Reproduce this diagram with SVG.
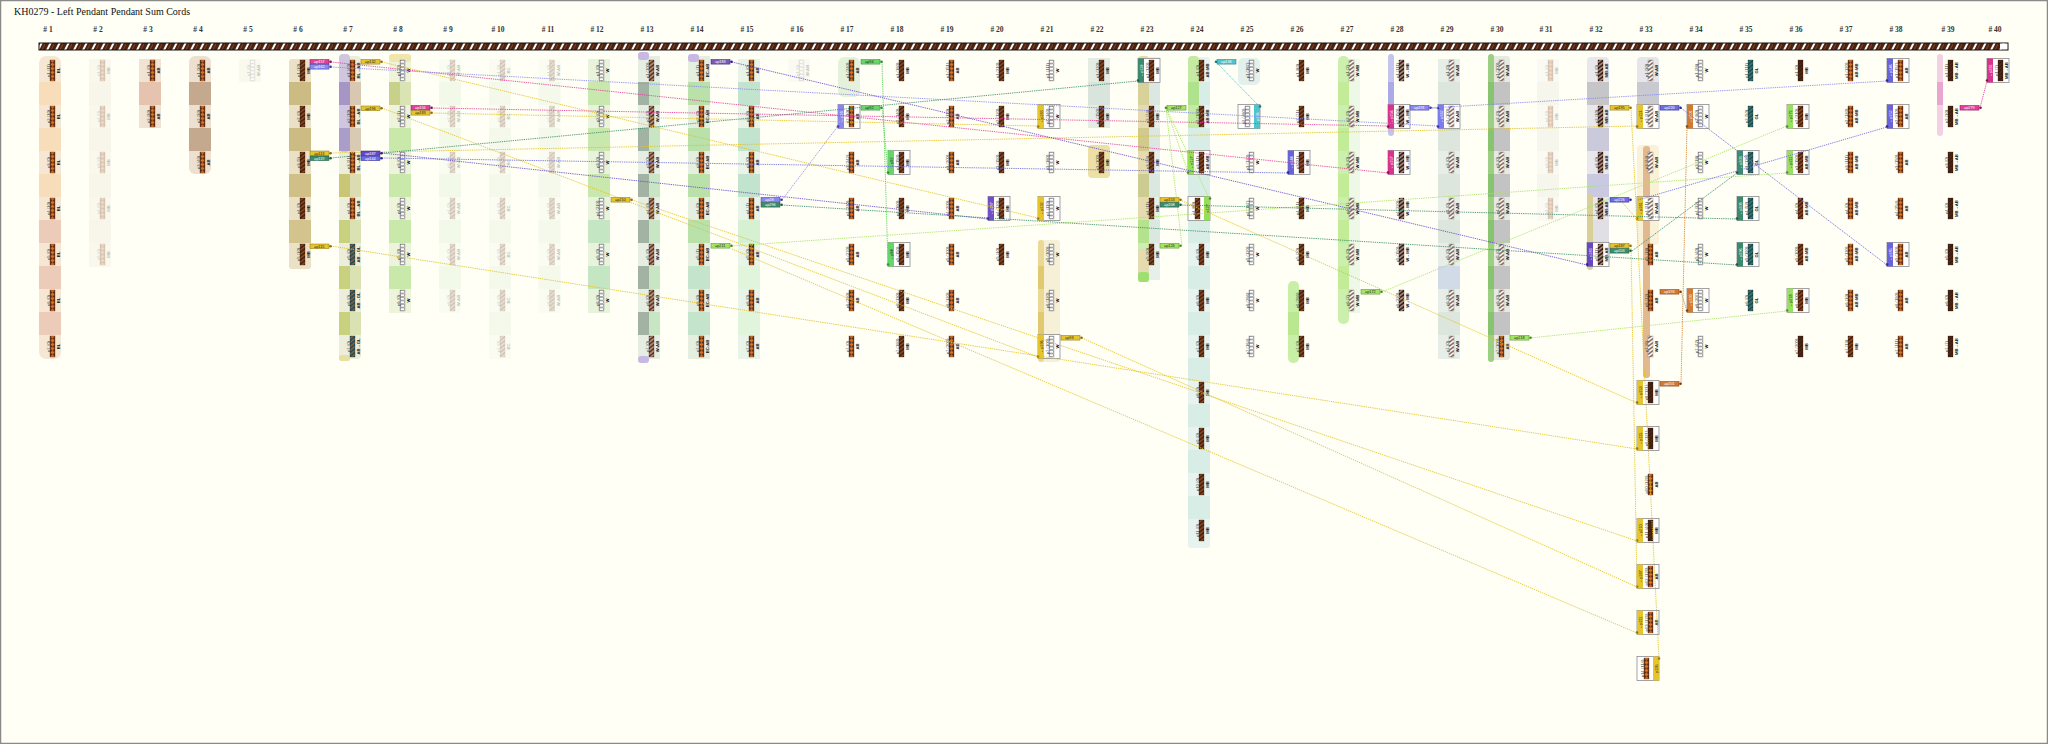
<svg xmlns="http://www.w3.org/2000/svg" width="2048" height="744" viewBox="0 0 2048 744">
<style>
.t text{font-family:"Liberation Sans",Arial,sans-serif;font-size:4.2px;text-anchor:middle;fill:#3a3a3a}
.t .a{font-weight:bold;fill:#111}
.t .tb{fill:#fff;font-size:3.8px}
.h{font-family:"Liberation Serif",serif;font-size:7.5px;font-weight:bold;fill:#333;text-anchor:middle}
.bx{fill:#fff;stroke:#8c8c8c;stroke-width:.8}
.cp text{font-family:"Liberation Sans",Arial,sans-serif;font-size:3.8px;fill:#fff}
.cp .k{fill:#222}
.cp rect{stroke-width:.5}
#connectors line{fill:none;stroke-width:1;stroke-dasharray:1.3 .9;opacity:.85}
</style>
<defs>
<pattern id="pR" width="9" height="7" patternUnits="userSpaceOnUse" y="43"><rect width="9" height="7" fill="#4a2313"/><path d="M1 7L3.2 7L6.7 0L4.5 0Z" fill="#fff"/><path d="M6 7L9.5 0" stroke="#9a4a24" stroke-width=".8"/></pattern>
<pattern id="pA" width="5" height="4" patternUnits="userSpaceOnUse" x="11"><rect width="5" height="4" fill="#5c2b15"/><path d="M0 2L2.5 .3L5 2L2.5 3.7Z" fill="#d9762c"/></pattern>
<pattern id="pO" width="5" height="4" patternUnits="userSpaceOnUse" x="11"><rect width="5" height="4" fill="#4a2210"/><path d="M0 4L5 0" stroke="#c06a30" stroke-width="1"/></pattern>
<pattern id="pS" width="5" height="4" patternUnits="userSpaceOnUse" x="11"><rect width="5" height="4" fill="#3f1d0e"/><path d="M0 4L5 0" stroke="#fff" stroke-width="1"/></pattern>
<pattern id="pW" width="5" height="3.5" patternUnits="userSpaceOnUse" x="11"><rect width="5" height="3.5" fill="#fff"/><rect x=".4" y=".4" width="4.2" height="2.7" fill="none" stroke="#666" stroke-width=".5"/></pattern>
<pattern id="pM" width="5" height="4" patternUnits="userSpaceOnUse" x="11"><rect width="5" height="4" fill="#3e1e10"/><path d="M0 4L5 0" stroke="#5e3420" stroke-width=".8"/></pattern>
<pattern id="pG" width="5" height="4" patternUnits="userSpaceOnUse" x="11"><rect width="5" height="4" fill="#1f4f50"/><path d="M0 4L5 0" stroke="#4f9a90" stroke-width="1"/></pattern>
<pattern id="pT" width="5" height="4" patternUnits="userSpaceOnUse" x="11"><rect width="5" height="4" fill="#24505a"/><path d="M0 4L5 0" stroke="#d07030" stroke-width="1"/></pattern>
<pattern id="pX" width="5" height="4" patternUnits="userSpaceOnUse" x="11"><rect width="5" height="4" fill="#6a3418"/><path d="M0 4L5 0" stroke="#fff" stroke-width=".9"/></pattern>
<pattern id="pV" width="5" height="4" patternUnits="userSpaceOnUse" x="11"><rect width="5" height="4" fill="#fff"/><path d="M0 4L5 0" stroke="#5a2a14" stroke-width="1.1"/></pattern>
<g id="bA"><rect x="11" y="-10.5" width="5" height="21" fill="url(#pA)" stroke="#3a1a0a" stroke-width=".3"/></g>
<g id="bO"><rect x="11" y="-10.5" width="5" height="21" fill="url(#pO)" stroke="#3a1a0a" stroke-width=".3"/></g>
<g id="bS"><rect x="11" y="-10.5" width="5" height="21" fill="url(#pS)" stroke="#2a1208" stroke-width=".3"/></g>
<g id="bW"><rect x="11" y="-10.5" width="5" height="21" fill="url(#pW)" stroke="#666" stroke-width=".3"/></g>
<g id="bM"><rect x="11" y="-10.5" width="5" height="21" fill="url(#pM)" stroke="#2a1208" stroke-width=".3"/></g>
<g id="bG"><rect x="11" y="-10.5" width="5" height="21" fill="url(#pG)" stroke="#123" stroke-width=".3"/></g>
<g id="bT"><rect x="11" y="-10.5" width="5" height="21" fill="url(#pT)" stroke="#123" stroke-width=".3"/></g>
<g id="bX"><rect x="11" y="-10.5" width="5" height="21" fill="url(#pX)" stroke="#3a1a0a" stroke-width=".3"/></g>
<g id="bV"><rect x="11" y="-10.5" width="5" height="21" fill="url(#pV)" stroke="#555" stroke-width=".3"/></g>
</defs>
<rect x="0.5" y="0.5" width="2047" height="743" fill="#fffff6" stroke="#8a8a8a" stroke-width="1.5"/>
<text x="14" y="15" font-family="Liberation Serif,serif" font-size="10" fill="#111">KH0279 - Left Pendant Pendant Sum Cords</text>
<g id="headers" class="h">
<text x="48" y="32"># 1</text><text x="98" y="32"># 2</text><text x="148" y="32"># 3</text><text x="198" y="32"># 4</text><text x="248" y="32"># 5</text><text x="298" y="32"># 6</text><text x="348" y="32"># 7</text><text x="398" y="32"># 8</text><text x="448" y="32"># 9</text><text x="498" y="32"># 10</text>
<text x="548" y="32"># 11</text><text x="597" y="32"># 12</text><text x="647" y="32"># 13</text><text x="697" y="32"># 14</text><text x="747" y="32"># 15</text><text x="797" y="32"># 16</text><text x="847" y="32"># 17</text><text x="897" y="32"># 18</text><text x="947" y="32"># 19</text><text x="997" y="32"># 20</text>
<text x="1047" y="32"># 21</text><text x="1097" y="32"># 22</text><text x="1147" y="32"># 23</text><text x="1197" y="32"># 24</text><text x="1247" y="32"># 25</text><text x="1297" y="32"># 26</text><text x="1347" y="32"># 27</text><text x="1397" y="32"># 28</text><text x="1447" y="32"># 29</text><text x="1497" y="32"># 30</text>
<text x="1546" y="32"># 31</text><text x="1596" y="32"># 32</text><text x="1646" y="32"># 33</text><text x="1696" y="32"># 34</text><text x="1746" y="32"># 35</text><text x="1796" y="32"># 36</text><text x="1846" y="32"># 37</text><text x="1896" y="32"># 38</text><text x="1948" y="32"># 39</text><text x="1995" y="32"># 40</text>
</g>
<g id="primary">
<rect x="39" y="43" width="1969" height="7" fill="url(#pR)" stroke="#111" stroke-width="1"/>
<rect x="2000" y="43.5" width="7.5" height="6" fill="#fff"/>
</g>

<g id="col1" transform="translate(39,0)">
<rect y="56" width="22" height="303" rx="7" fill="#f6e7d5"/>
<rect y="82" width="22" height="23" fill="#f8ddbb"/><rect y="128" width="22" height="23" fill="#f8ddbb"/><rect y="174" width="22" height="23" fill="#f8ddbb"/><rect y="220" width="22" height="23" fill="#ecccb9"/><rect y="266" width="22" height="23" fill="#ecccb9"/><rect y="312" width="22" height="23" fill="#ecccb9"/>
<use href="#bA" y="70.5"/><use href="#bA" y="116.5"/><use href="#bA" y="162.5"/><use href="#bA" y="208.5"/><use href="#bA" y="254.5"/><use href="#bA" y="300.5"/><use href="#bA" y="346.5"/>
<g class="t" transform="rotate(-90)"><text x="-70.5" y="11">p1 (11)</text><text x="-70.5" y="21" class="a">BL</text><text x="-116.5" y="11">p2 (10)</text><text x="-116.5" y="21" class="a">BL</text><text x="-162.5" y="11">p3 (0)</text><text x="-162.5" y="21" class="a">BL</text><text x="-208.5" y="11">p4 (10)</text><text x="-208.5" y="21" class="a">BL</text><text x="-254.5" y="11">p5 (0)</text><text x="-254.5" y="21" class="a">BL</text><text x="-300.5" y="11">p6 (0)</text><text x="-300.5" y="21" class="a">BL</text><text x="-346.5" y="11">p7 (0)</text><text x="-346.5" y="21" class="a">BL</text></g>
</g>

<g id="col2" transform="translate(89,0)" opacity="0.28">
<rect y="59" width="22" height="208" fill="#efe5d9"/>
<rect y="82" width="22" height="23" fill="#e9dccd"/><rect y="128" width="22" height="23" fill="#e9dccd"/><rect y="174" width="22" height="23" fill="#e9dccd"/><rect y="220" width="22" height="23" fill="#e9dccd"/>
<use href="#bA" y="70.5"/><use href="#bA" y="116.5"/><use href="#bA" y="162.5"/><use href="#bA" y="208.5"/><use href="#bA" y="254.5"/>
<g class="t" transform="rotate(-90)"><text x="-70.5" y="11">p1 (0)</text><text x="-70.5" y="21" class="a">MB</text><text x="-116.5" y="11">p2 (0)</text><text x="-116.5" y="21" class="a">MB</text><text x="-162.5" y="11">p3 (0)</text><text x="-162.5" y="21" class="a">MB</text><text x="-208.5" y="11">p4 (0)</text><text x="-208.5" y="21" class="a">MB</text><text x="-254.5" y="11">p5 (0)</text><text x="-254.5" y="21" class="a">MB</text></g>
</g>

<g id="col3" transform="translate(139,0)">
<rect y="59" width="22" height="69" fill="#f1e3d3"/>
<rect y="82" width="22" height="23" fill="#e6c3af"/>
<use href="#bA" y="70.5"/><use href="#bA" y="116.5"/>
<g class="t" transform="rotate(-90)"><text x="-70.5" y="11">p1 (0)</text><text x="-70.5" y="21" class="a">AB</text><text x="-116.5" y="11">p2 (30)</text><text x="-116.5" y="21" class="a">AB</text></g>
</g>

<g id="col4" transform="translate(189,0)">
<rect y="56" width="22" height="118" rx="6" fill="#eee0d0"/>
<rect y="82" width="22" height="23" fill="#c4a98e"/><rect y="128" width="22" height="23" fill="#c4a98e"/>
<use href="#bA" y="70.5"/><use href="#bA" y="116.5"/><use href="#bA" y="162.5"/>
<g class="t" transform="rotate(-90)"><text x="-70.5" y="11">p1 (30)</text><text x="-70.5" y="21" class="a">AB</text><text x="-116.5" y="11">p2 (30)</text><text x="-116.5" y="21" class="a">AB</text><text x="-162.5" y="11">p3 (40)</text><text x="-162.5" y="21" class="a">AB</text></g>
</g>

<g id="col5" transform="translate(239,0)" opacity="0.28">
<rect y="59" width="22" height="23" fill="#eeeadc"/>
<use href="#bW" y="70.5"/>
<g class="t" transform="rotate(-90)"><text x="-70.5" y="11">p1 (0)</text><text x="-70.5" y="21" class="a">W:AB</text></g>
</g>

<g id="col6" transform="translate(289,0)">
<rect y="59" width="22" height="210" rx="3" fill="#ebe1c6"/>
<rect y="82" width="22" height="23" fill="#ccbc84"/><rect y="128" width="22" height="23" fill="#ccbc84"/><rect y="174" width="22" height="23" fill="#d0c088"/><rect y="220" width="22" height="23" fill="#d2c48c"/>
<use href="#bO" y="70.5"/><use href="#bO" y="116.5"/><use href="#bO" y="162.5"/><use href="#bO" y="208.5"/><use href="#bO" y="254.5"/>
<g class="t" transform="rotate(-90)"><text x="-70.5" y="11">p1 (10)</text><text x="-70.5" y="21" class="a">MB</text><text x="-116.5" y="11">p2 (0)</text><text x="-116.5" y="21" class="a">MB</text><text x="-162.5" y="11">p3 (5)</text><text x="-162.5" y="21" class="a">MB</text><text x="-208.5" y="11">p4 (0)</text><text x="-208.5" y="21" class="a">MB</text><text x="-254.5" y="11">p5 (10)</text><text x="-254.5" y="21" class="a">MB</text></g>
</g>

<g id="col7" transform="translate(339,0)">
<rect y="56" width="22" height="303" rx="4" fill="#eceedb"/>
<rect y="54" width="11" height="98" rx="4" fill="#cfc6e0"/>
<rect y="82" width="11" height="23" fill="#a696c6"/><rect x="11" y="82" width="11" height="23" fill="#d8c8b2"/>
<rect y="128" width="11" height="23" fill="#ab9dc9"/><rect x="11" y="128" width="11" height="23" fill="#d9cab4"/>
<rect y="174" width="11" height="23" fill="#c9c676"/><rect x="11" y="174" width="11" height="23" fill="#dcdcb2"/>
<rect y="220" width="11" height="23" fill="#c9d17e"/><rect x="11" y="220" width="11" height="23" fill="#dae2b4"/>
<rect y="266" width="11" height="23" fill="#c9d17e"/><rect x="11" y="266" width="11" height="23" fill="#dae2b4"/>
<rect y="312" width="11" height="23" fill="#c9d17e"/><rect x="11" y="312" width="11" height="23" fill="#dae2b4"/>
<rect y="355" width="11" height="6" rx="2" fill="#e8e0a0"/>
<use href="#bA" y="70.5"/><use href="#bA" y="116.5"/><use href="#bA" y="162.5"/><use href="#bA" y="208.5"/><use href="#bT" y="254.5"/><use href="#bT" y="300.5"/><use href="#bT" y="346.5"/>
<g class="t" transform="rotate(-90)"><text x="-70.5" y="11">p1 (40)</text><text x="-70.5" y="21" class="a">BL→AB</text><text x="-116.5" y="11">p2 (10)</text><text x="-116.5" y="21" class="a">BL→AB</text><text x="-162.5" y="11">p3 (21)</text><text x="-162.5" y="21" class="a">BL→AB</text><text x="-208.5" y="11">p4 (0)</text><text x="-208.5" y="21" class="a">BL→AB</text><text x="-254.5" y="11">p5 (0)</text><text x="-254.5" y="21" class="a">AB→GL</text><text x="-300.5" y="11">p6 (0)</text><text x="-300.5" y="21" class="a">AB→GL</text><text x="-346.5" y="11">p7 (0)</text><text x="-346.5" y="21" class="a">AB→GL</text></g>
</g>

<g id="col8" transform="translate(389,0)">
<rect y="56" width="22" height="257" fill="#eef3dc"/>
<rect y="54" width="22" height="8" rx="3" fill="#efe6ae"/>
<rect y="82" width="11" height="23" fill="#c8d089"/><rect x="11" y="82" width="11" height="23" fill="#d9e3b3"/>
<rect y="128" width="22" height="23" fill="#c8e9aa"/><rect y="174" width="22" height="23" fill="#c8e9aa"/><rect y="220" width="22" height="23" fill="#c8e9aa"/><rect y="266" width="22" height="23" fill="#c8e9aa"/>
<use href="#bW" y="70.5"/><use href="#bW" y="116.5"/><use href="#bW" y="162.5"/><use href="#bW" y="208.5"/><use href="#bW" y="254.5"/><use href="#bW" y="300.5"/>
<g class="t" transform="rotate(-90)"><text x="-70.5" y="11">p1 (0)</text><text x="-70.5" y="21" class="a">W</text><text x="-116.5" y="11">p2 (1)</text><text x="-116.5" y="21" class="a">W</text><text x="-162.5" y="11">p3 (0)</text><text x="-162.5" y="21" class="a">W</text><text x="-208.5" y="11">p4 (0)</text><text x="-208.5" y="21" class="a">W</text><text x="-254.5" y="11">p5 (0)</text><text x="-254.5" y="21" class="a">W</text><text x="-300.5" y="11">p6 (0)</text><text x="-300.5" y="21" class="a">W</text></g>
</g>

<g id="col9" transform="translate(439,0)" opacity="0.28">
<rect y="59" width="22" height="254" fill="#edf5e4"/>
<rect y="82" width="22" height="23" fill="#d7ecc6"/><rect y="128" width="22" height="23" fill="#d7ecc6"/><rect y="174" width="22" height="23" fill="#d7ecc6"/><rect y="220" width="22" height="23" fill="#d7ecc6"/><rect y="266" width="22" height="23" fill="#d7ecc6"/>
<use href="#bX" y="70.5"/><use href="#bX" y="116.5"/><use href="#bX" y="162.5"/><use href="#bX" y="208.5"/><use href="#bX" y="254.5"/><use href="#bX" y="300.5"/>
<g class="t" transform="rotate(-90)"><text x="-70.5" y="11">p1 (0)</text><text x="-70.5" y="21" class="a">W:AB</text><text x="-116.5" y="11">p2 (0)</text><text x="-116.5" y="21" class="a">W:AB</text><text x="-162.5" y="11">p3 (0)</text><text x="-162.5" y="21" class="a">W:AB</text><text x="-208.5" y="11">p4 (0)</text><text x="-208.5" y="21" class="a">W:AB</text><text x="-254.5" y="11">p5 (0)</text><text x="-254.5" y="21" class="a">W:AB</text><text x="-300.5" y="11">p6 (0)</text><text x="-300.5" y="21" class="a">W:AB</text></g>
</g>

<g id="col10" transform="translate(489,0)" opacity="0.28">
<rect y="59" width="22" height="300" fill="#eef4e6"/>
<rect y="82" width="22" height="23" fill="#dcecd0"/><rect y="128" width="22" height="23" fill="#dcecd0"/><rect y="174" width="22" height="23" fill="#dcecd0"/><rect y="220" width="22" height="23" fill="#dcecd0"/><rect y="266" width="22" height="23" fill="#dcecd0"/><rect y="312" width="22" height="23" fill="#dcecd0"/>
<use href="#bX" y="70.5"/><use href="#bX" y="116.5"/><use href="#bX" y="162.5"/><use href="#bX" y="208.5"/><use href="#bX" y="254.5"/><use href="#bX" y="300.5"/><use href="#bX" y="346.5"/>
<g class="t" transform="rotate(-90)"><text x="-70.5" y="11">p1 (0)</text><text x="-70.5" y="21" class="a">BC</text><text x="-116.5" y="11">p2 (0)</text><text x="-116.5" y="21" class="a">BC</text><text x="-162.5" y="11">p3 (0)</text><text x="-162.5" y="21" class="a">BC</text><text x="-208.5" y="11">p4 (0)</text><text x="-208.5" y="21" class="a">BC</text><text x="-254.5" y="11">p5 (0)</text><text x="-254.5" y="21" class="a">BC</text><text x="-300.5" y="11">p6 (0)</text><text x="-300.5" y="21" class="a">BC</text><text x="-346.5" y="11">p7 (0)</text><text x="-346.5" y="21" class="a">BC</text></g>
</g>

<g id="col11" transform="translate(538.5,0)" opacity="0.28">
<rect y="59" width="22" height="254" fill="#eef4e6"/>
<rect y="82" width="22" height="23" fill="#dcecd0"/><rect y="128" width="22" height="23" fill="#dcecd0"/><rect y="174" width="22" height="23" fill="#dcecd0"/><rect y="220" width="22" height="23" fill="#dcecd0"/><rect y="266" width="22" height="23" fill="#dcecd0"/>
<use href="#bX" y="70.5"/><use href="#bX" y="116.5"/><use href="#bX" y="162.5"/><use href="#bX" y="208.5"/><use href="#bX" y="254.5"/><use href="#bX" y="300.5"/>
<g class="t" transform="rotate(-90)"><text x="-70.5" y="11">p1 (0)</text><text x="-70.5" y="21" class="a">W:AB</text><text x="-116.5" y="11">p2 (0)</text><text x="-116.5" y="21" class="a">W:AB</text><text x="-162.5" y="11">p3 (0)</text><text x="-162.5" y="21" class="a">W:AB</text><text x="-208.5" y="11">p4 (0)</text><text x="-208.5" y="21" class="a">W:AB</text><text x="-254.5" y="11">p5 (0)</text><text x="-254.5" y="21" class="a">W:AB</text><text x="-300.5" y="11">p6 (0)</text><text x="-300.5" y="21" class="a">W:AB</text></g>
</g>

<g id="col12" transform="translate(588,0)">
<rect y="59" width="22" height="254" fill="#e8f3dc"/>
<rect y="82" width="22" height="23" fill="#c9e8ad"/><rect y="128" width="22" height="23" fill="#c9e8ad"/><rect y="174" width="22" height="23" fill="#c9e8ad"/><rect y="220" width="22" height="23" fill="#c5e6c3"/><rect y="266" width="22" height="23" fill="#c5e6c3"/>
<use href="#bW" y="70.5"/><use href="#bW" y="116.5"/><use href="#bW" y="162.5"/><use href="#bW" y="208.5"/><use href="#bW" y="254.5"/><use href="#bW" y="300.5"/>
<g class="t" transform="rotate(-90)"><text x="-70.5" y="11">p1 (0)</text><text x="-70.5" y="21" class="a">W</text><text x="-116.5" y="11">p2 (0)</text><text x="-116.5" y="21" class="a">W</text><text x="-162.5" y="11">p3 (0)</text><text x="-162.5" y="21" class="a">W</text><text x="-208.5" y="11">p4 (210)</text><text x="-208.5" y="21" class="a">W</text><text x="-254.5" y="11">p5 (0)</text><text x="-254.5" y="21" class="a">W</text><text x="-300.5" y="11">p6 (0)</text><text x="-300.5" y="21" class="a">W</text></g>
</g>

<g id="col13" transform="translate(638,0)">
<rect y="56" width="22" height="303" fill="#e6eee4"/>
<rect y="52" width="11" height="8" rx="3" fill="#c9b9e2"/><rect y="356" width="11" height="7" rx="3" fill="#c9b9e2"/>
<rect y="82" width="11" height="23" fill="#a3b3a3"/><rect x="11" y="82" width="11" height="23" fill="#c8e6c4"/>
<rect y="128" width="11" height="23" fill="#a3b3a3"/><rect x="11" y="128" width="11" height="23" fill="#c8e6c4"/>
<rect y="174" width="11" height="23" fill="#a3b3a3"/><rect x="11" y="174" width="11" height="23" fill="#c8e6c4"/>
<rect y="220" width="11" height="23" fill="#a3b3a3"/><rect x="11" y="220" width="11" height="23" fill="#c8e6c4"/>
<rect y="266" width="11" height="23" fill="#a3b3a3"/><rect x="11" y="266" width="11" height="23" fill="#c8e6c4"/>
<rect y="312" width="11" height="23" fill="#a3b3a3"/><rect x="11" y="312" width="11" height="23" fill="#c8e6c4"/>
<use href="#bX" y="70.5"/><use href="#bX" y="116.5"/><use href="#bX" y="162.5"/><use href="#bX" y="208.5"/><use href="#bX" y="254.5"/><use href="#bX" y="300.5"/><use href="#bX" y="346.5"/>
<g class="t" transform="rotate(-90)"><text x="-70.5" y="11">p1 (100)</text><text x="-70.5" y="21" class="a">W:AB</text><text x="-116.5" y="11">p2 (0)</text><text x="-116.5" y="21" class="a">W:AB</text><text x="-162.5" y="11">p3 (0)</text><text x="-162.5" y="21" class="a">W:AB</text><text x="-208.5" y="11">p4 (0)</text><text x="-208.5" y="21" class="a">W:AB</text><text x="-254.5" y="11">p5 (0)</text><text x="-254.5" y="21" class="a">W:AB</text><text x="-300.5" y="11">p6 (0)</text><text x="-300.5" y="21" class="a">W:AB</text><text x="-346.5" y="11">p7 (0)</text><text x="-346.5" y="21" class="a">W:AB</text></g>
</g>

<g id="col14" transform="translate(688,0)">
<rect y="56" width="22" height="303" fill="#e5efe0"/>
<rect y="54" width="11" height="8" rx="3" fill="#c9b9e2"/>
<rect y="82" width="22" height="23" fill="#b9e1a9"/><rect y="128" width="22" height="23" fill="#b9e1a9"/><rect y="174" width="22" height="23" fill="#b9e1a9"/><rect y="220" width="22" height="23" fill="#b9e1a9"/><rect y="266" width="22" height="23" fill="#c4e4cc"/><rect y="312" width="22" height="23" fill="#c4e4cc"/>
<use href="#bA" y="70.5"/><use href="#bA" y="116.5"/><use href="#bA" y="162.5"/><use href="#bA" y="208.5"/><use href="#bA" y="254.5"/><use href="#bA" y="300.5"/><use href="#bA" y="346.5"/>
<g class="t" transform="rotate(-90)"><text x="-70.5" y="11">p1 (1)</text><text x="-70.5" y="21" class="a">BC:AB</text><text x="-116.5" y="11">p2 (0)</text><text x="-116.5" y="21" class="a">BC:AB</text><text x="-162.5" y="11">p3 (0)</text><text x="-162.5" y="21" class="a">BC:AB</text><text x="-208.5" y="11">p4 (0)</text><text x="-208.5" y="21" class="a">BC:AB</text><text x="-254.5" y="11">p5 (1)</text><text x="-254.5" y="21" class="a">BC:AB</text><text x="-300.5" y="11">p6 (0)</text><text x="-300.5" y="21" class="a">BC:AB</text><text x="-346.5" y="11">p7 (0)</text><text x="-346.5" y="21" class="a">BC:AB</text></g>
</g>

<g id="col15" transform="translate(738,0)">
<rect y="59" width="22" height="300" fill="#e9f4e9"/>
<rect y="82" width="22" height="23" fill="#c2e3cd"/><rect y="128" width="22" height="23" fill="#c2e3cd"/><rect y="174" width="22" height="23" fill="#c2e3cd"/><rect y="220" width="22" height="23" fill="#d6f1d2"/><rect y="266" width="22" height="23" fill="#e0f5dc"/><rect y="312" width="22" height="23" fill="#e0f5dc"/>
<use href="#bA" y="70.5"/><use href="#bA" y="116.5"/><use href="#bA" y="162.5"/><use href="#bA" y="208.5"/><use href="#bA" y="254.5"/><use href="#bA" y="300.5"/><use href="#bA" y="346.5"/>
<g class="t" transform="rotate(-90)"><text x="-70.5" y="11">p1 (0)</text><text x="-70.5" y="21" class="a">AB</text><text x="-116.5" y="11">p2 (0)</text><text x="-116.5" y="21" class="a">AB</text><text x="-162.5" y="11">p3 (0)</text><text x="-162.5" y="21" class="a">AB</text><text x="-208.5" y="11">p4 (1)</text><text x="-208.5" y="21" class="a">AB</text><text x="-254.5" y="11">p5 (0)</text><text x="-254.5" y="21" class="a">AB</text><text x="-300.5" y="11">p6 (0)</text><text x="-300.5" y="21" class="a">AB</text><text x="-346.5" y="11">p7 (0)</text><text x="-346.5" y="21" class="a">AB</text></g>
</g>

<g id="col16" transform="translate(788,0)" opacity="0.28">
<rect y="59" width="22" height="23" fill="#eef0e8"/>
<use href="#bW" y="70.5"/>
<g class="t" transform="rotate(-90)"><text x="-70.5" y="11">p1 (0)</text><text x="-70.5" y="21" class="a">W:AB</text></g>
</g>

<g id="col17" transform="translate(838,0)">
<rect y="57" width="22" height="40" rx="6" fill="#e4f2dc"/>
<rect class="bx" y="104.5" width="22" height="24"/><rect y="104.5" width="6" height="24" fill="#8a86ec"/><circle cx="0" cy="126.5" r="1.3" fill="#3a36a0"/>
<use href="#bA" y="70.5"/><use href="#bA" y="116.5"/><use href="#bA" y="162.5"/><use href="#bA" y="208.5"/><use href="#bA" y="254.5"/><use href="#bA" y="300.5"/><use href="#bA" y="346.5"/>
<g class="t" transform="rotate(-90)"><text class="tb" x="-116.5" y="4.5">←p28</text><text x="-70.5" y="11">p1 (240)</text><text x="-70.5" y="21" class="a">AB</text><text x="-116.5" y="11">p2 (30)</text><text x="-116.5" y="21" class="a">AB</text><text x="-162.5" y="11">p3 (242)</text><text x="-162.5" y="21" class="a">AB</text><text x="-208.5" y="11">p4 (230)</text><text x="-208.5" y="21" class="a">AB</text><text x="-254.5" y="11">p5 (270)</text><text x="-254.5" y="21" class="a">AB</text><text x="-300.5" y="11">p6 (290)</text><text x="-300.5" y="21" class="a">AB</text><text x="-346.5" y="11">p7 (0)</text><text x="-346.5" y="21" class="a">AB</text></g>
</g>

<g id="col18" transform="translate(888,0)">
<rect class="bx" y="150.5" width="22" height="24"/><rect y="150.5" width="6" height="24" fill="#66d66a"/><circle cx="0" cy="172.5" r="1.3" fill="#2a8a2e"/>
<rect class="bx" y="242.5" width="22" height="24"/><rect y="242.5" width="6" height="24" fill="#66d66a"/><circle cx="0" cy="264.5" r="1.3" fill="#2a8a2e"/>
<use href="#bO" y="70.5"/><use href="#bO" y="116.5"/><use href="#bO" y="162.5"/><use href="#bO" y="208.5"/><use href="#bO" y="254.5"/><use href="#bO" y="300.5"/><use href="#bO" y="346.5"/>
<g class="t" transform="rotate(-90)"><text class="tb" x="-162.5" y="4.5" style="fill:#123">←p92</text><text class="tb" x="-254.5" y="4.5" style="fill:#123">←p94</text><text x="-70.5" y="11">p1 (160)</text><text x="-70.5" y="21" class="a">MB</text><text x="-116.5" y="11">p2 (140)</text><text x="-116.5" y="21" class="a">MB</text><text x="-162.5" y="11">p3 (150)</text><text x="-162.5" y="21" class="a">MB</text><text x="-208.5" y="11">p4 (160)</text><text x="-208.5" y="21" class="a">MB</text><text x="-254.5" y="11">p5 (150)</text><text x="-254.5" y="21" class="a">MB</text><text x="-300.5" y="11">p6 (130)</text><text x="-300.5" y="21" class="a">MB</text><text x="-346.5" y="11">p7 (160)</text><text x="-346.5" y="21" class="a">MB</text></g>
</g>

<g id="col19" transform="translate(938,0)">
<use href="#bA" y="70.5"/><use href="#bA" y="116.5"/><use href="#bA" y="162.5"/><use href="#bA" y="208.5"/><use href="#bA" y="254.5"/><use href="#bA" y="300.5"/><use href="#bA" y="346.5"/>
<g class="t" transform="rotate(-90)"><text x="-70.5" y="11">p1 (151)</text><text x="-70.5" y="21" class="a">AB</text><text x="-116.5" y="11">p2 (110)</text><text x="-116.5" y="21" class="a">AB</text><text x="-162.5" y="11">p3 (200)</text><text x="-162.5" y="21" class="a">AB</text><text x="-208.5" y="11">p4 (200)</text><text x="-208.5" y="21" class="a">AB</text><text x="-254.5" y="11">p5 (100)</text><text x="-254.5" y="21" class="a">AB</text><text x="-300.5" y="11">p6 (120)</text><text x="-300.5" y="21" class="a">AB</text><text x="-346.5" y="11">p7 (200)</text><text x="-346.5" y="21" class="a">AB</text></g>
</g>

<g id="col20" transform="translate(988,0)">
<rect class="bx" y="196.5" width="22" height="24"/><rect y="196.5" width="6" height="24" fill="#7050c4"/><circle cx="0" cy="218.5" r="1.3" fill="#38207a"/>
<use href="#bO" y="70.5"/><use href="#bO" y="116.5"/><use href="#bO" y="162.5"/><use href="#bO" y="208.5"/><use href="#bO" y="254.5"/>
<g class="t" transform="rotate(-90)"><text class="tb" x="-208.5" y="4.5">←p187</text><text x="-70.5" y="11">p1 (210)</text><text x="-70.5" y="21" class="a">MB</text><text x="-116.5" y="11">p2 (120)</text><text x="-116.5" y="21" class="a">MB</text><text x="-162.5" y="11">p3 (150)</text><text x="-162.5" y="21" class="a">MB</text><text x="-208.5" y="11">p4 (120)</text><text x="-208.5" y="21" class="a">MB</text><text x="-254.5" y="11">p5 (10)</text><text x="-254.5" y="21" class="a">MB</text></g>
</g>

<g id="col21" transform="translate(1038,0)">
<rect y="240" width="22" height="122" rx="3" fill="#f6f0d6"/>
<rect y="240" width="6" height="122" rx="3" fill="#ecd896"/><rect y="266" width="6" height="23" fill="#e2c870"/><rect y="312" width="6" height="23" fill="#e2c870"/>
<rect class="bx" y="104.5" width="22" height="24"/><rect y="104.5" width="6" height="24" fill="#e6c42c"/><circle cx="0" cy="126.5" r="1.3" fill="#8a7010"/>
<rect class="bx" y="196.5" width="22" height="24"/><rect y="196.5" width="6" height="24" fill="#e6c42c"/><circle cx="0" cy="218.5" r="1.3" fill="#8a7010"/>
<rect class="bx" y="334.5" width="22" height="24"/><rect y="334.5" width="6" height="24" fill="#e6c42c"/><circle cx="0" cy="356.5" r="1.3" fill="#8a7010"/>
<use href="#bW" y="70.5"/><use href="#bW" y="116.5"/><use href="#bW" y="162.5"/><use href="#bW" y="208.5"/><use href="#bW" y="254.5"/><use href="#bW" y="300.5"/><use href="#bW" y="346.5"/>
<g class="t" transform="rotate(-90)"><text class="tb" x="-116.5" y="4.5" style="fill:#222">←p183</text><text class="tb" x="-208.5" y="4.5" style="fill:#222">←p132</text><text class="tb" x="-346.5" y="4.5" style="fill:#222">←p196</text><text x="-70.5" y="11">p1 (111)</text><text x="-70.5" y="21" class="a">W</text><text x="-116.5" y="11">p2 (140)</text><text x="-116.5" y="21" class="a">W</text><text x="-162.5" y="11">p3 (180)</text><text x="-162.5" y="21" class="a">W</text><text x="-208.5" y="11">p4 (110)</text><text x="-208.5" y="21" class="a">W</text><text x="-254.5" y="11">p5 (100)</text><text x="-254.5" y="21" class="a">W</text><text x="-300.5" y="11">p6 (120)</text><text x="-300.5" y="21" class="a">W</text><text x="-346.5" y="11">p7 (100)</text><text x="-346.5" y="21" class="a">W</text></g>
</g>

<g id="col22" transform="translate(1088,0)">
<rect y="58" width="22" height="70" fill="#e4ece4"/><rect y="82" width="22" height="23" fill="#d8e4dc"/>
<rect y="145" width="22" height="33" rx="4" fill="#ece0a6"/>
<use href="#bO" y="70.5"/><use href="#bO" y="116.5"/><use href="#bO" y="162.5"/>
<g class="t" transform="rotate(-90)"><text x="-70.5" y="11">p1 (120)</text><text x="-70.5" y="21" class="a">MB</text><text x="-116.5" y="11">p2 (150)</text><text x="-116.5" y="21" class="a">MB</text><text x="-162.5" y="11">p3 (100)</text><text x="-162.5" y="21" class="a">MB</text></g>
</g>

<g id="col23" transform="translate(1138,0)">
<rect y="56" width="11" height="226" rx="3" fill="#e4dcb0"/><rect x="11" y="57" width="11" height="223" fill="#e6efe9"/>
<rect y="82" width="11" height="23" fill="#d9d19a"/><rect y="128" width="11" height="23" fill="#d2ca8c"/><rect y="174" width="11" height="23" fill="#cbcb92"/><rect y="220" width="11" height="23" fill="#b5e28d"/>
<rect x="11" y="82" width="11" height="23" fill="#dbe8e2"/><rect x="11" y="128" width="11" height="23" fill="#dbe8e2"/><rect x="11" y="174" width="11" height="23" fill="#dbe8e2"/><rect x="11" y="220" width="11" height="23" fill="#dbe8e2"/>
<rect y="243" width="11" height="6" fill="#cdeeb0"/><rect y="272" width="11" height="10" rx="3" fill="#9ee070"/>
<rect class="bx" y="58.5" width="22" height="24"/><rect y="58.5" width="6" height="24" fill="#3a8a6e"/><circle cx="0" cy="80.5" r="1.3" fill="#1a5a3e"/>
<use href="#bO" y="70.5"/><use href="#bO" y="116.5"/><use href="#bO" y="162.5"/><use href="#bO" y="208.5"/><use href="#bO" y="254.5"/>
<g class="t" transform="rotate(-90)"><text class="tb" x="-70.5" y="4.5">←p119</text><text x="-70.5" y="11">p1 (120)</text><text x="-70.5" y="21" class="a">MB</text><text x="-116.5" y="11">p2 (74)</text><text x="-116.5" y="21" class="a">MB</text><text x="-162.5" y="11">p3 (76)</text><text x="-162.5" y="21" class="a">MB</text><text x="-208.5" y="11">p4 (11)</text><text x="-208.5" y="21" class="a">MB</text><text x="-254.5" y="11">p5 (20)</text><text x="-254.5" y="21" class="a">MB</text></g>
</g>

<g id="col24" transform="translate(1188,0)">
<rect y="57" width="22" height="491" rx="3" fill="#e7f3ef"/>
<rect y="56" width="11" height="74" rx="4" fill="#c4eaa4"/><rect y="82" width="11" height="23" fill="#aee28c"/><rect x="11" y="82" width="11" height="23" fill="#d9ede7"/>
<rect y="128" width="22" height="23" fill="#d9ede7"/><rect y="174" width="22" height="23" fill="#d9ede7"/><rect y="220" width="22" height="23" fill="#d9ede7"/><rect y="266" width="22" height="23" fill="#d9ede7"/><rect y="312" width="22" height="23" fill="#d9ede7"/><rect y="358" width="22" height="23" fill="#d9ede7"/><rect y="404" width="22" height="23" fill="#d9ede7"/><rect y="450" width="22" height="23" fill="#d9ede7"/><rect y="496" width="22" height="23" fill="#d9ede7"/>
<rect class="bx" y="150.5" width="22" height="24"/><rect y="150.5" width="6" height="24" fill="#94e054"/><circle cx="0" cy="172.5" r="1.3" fill="#4a8a20"/>
<rect class="bx" y="196.5" width="22" height="24"/><rect x="16" y="196.5" width="6" height="24" fill="#94e054"/><circle cx="22" cy="198.5" r="1.3" fill="#4a8a20"/>
<use href="#bO" y="70.5"/><use href="#bO" y="116.5"/><use href="#bO" y="162.5"/><use href="#bO" x="-4" y="208.5"/><use href="#bO" y="254.5"/><use href="#bO" y="300.5"/><use href="#bO" y="346.5"/><use href="#bO" y="392.5"/><use href="#bO" y="438.5"/><use href="#bO" y="484.5"/><use href="#bO" y="530.5"/>
<g class="t" transform="rotate(-90)"><text class="tb" x="-162.5" y="4.5" style="fill:#123">←p127</text><text class="tb" x="-208.5" y="20.5" style="fill:#123">p127</text><text x="-70.5" y="11">p1 (0)</text><text x="-70.5" y="21" class="a">AB:MB</text><text x="-116.5" y="11">p2 (100)</text><text x="-116.5" y="21" class="a">AB:MB</text><text x="-162.5" y="11">p3 (11)</text><text x="-162.5" y="21" class="a">AB:MB</text><text x="-208.5" y="7">p4 (80)</text><text x="-254.5" y="11">p5 (0)</text><text x="-254.5" y="21" class="a">MB</text><text x="-300.5" y="11">p6 (0)</text><text x="-300.5" y="21" class="a">MB</text><text x="-346.5" y="11">p7 (0)</text><text x="-346.5" y="21" class="a">MB</text><text x="-392.5" y="11">p8 (0)</text><text x="-392.5" y="21" class="a">MB</text><text x="-438.5" y="11">p9 (0)</text><text x="-438.5" y="21" class="a">MB</text><text x="-484.5" y="11">p10 (0)</text><text x="-484.5" y="21" class="a">MB</text><text x="-530.5" y="11">p11 (0)</text><text x="-530.5" y="21" class="a">MB</text></g>
</g>

<g id="col25" transform="translate(1238,0)">
<rect y="58" width="22" height="27" rx="5" fill="#e4f0ec"/>
<rect class="bx" y="104.5" width="22" height="24"/><rect x="16" y="104.5" width="6" height="24" fill="#4ec4cc"/><circle cx="22" cy="106.5" r="1.3" fill="#1a7a80"/>
<use href="#bW" y="70.5"/><use href="#bW" x="-4" y="116.5"/><use href="#bW" y="162.5"/><use href="#bW" y="208.5"/><use href="#bW" y="254.5"/><use href="#bW" y="300.5"/><use href="#bW" y="346.5"/>
<g class="t" transform="rotate(-90)"><text class="tb" x="-116.5" y="20.5">p136</text><text x="-70.5" y="11">p1 (187)</text><text x="-70.5" y="21" class="a">W</text><text x="-116.5" y="7">p2 (480)</text><text x="-162.5" y="11">p3 (120)</text><text x="-162.5" y="21" class="a">W</text><text x="-208.5" y="11">p4 (187)</text><text x="-208.5" y="21" class="a">W</text><text x="-254.5" y="11">p5 (120)</text><text x="-254.5" y="21" class="a">W</text><text x="-300.5" y="11">p6 (266)</text><text x="-300.5" y="21" class="a">W</text><text x="-346.5" y="11">p7 (164)</text><text x="-346.5" y="21" class="a">W</text></g>
</g>

<g id="col26" transform="translate(1288,0)">
<rect y="281" width="11" height="82" rx="5" fill="#c8efa6"/><rect y="312" width="11" height="23" fill="#b9e890"/>
<rect class="bx" y="150.5" width="22" height="24"/><rect y="150.5" width="6" height="24" fill="#6a62d8"/><circle cx="0" cy="172.5" r="1.3" fill="#2a2290"/>
<use href="#bO" y="70.5"/><use href="#bO" y="116.5"/><use href="#bO" y="162.5"/><use href="#bO" y="208.5"/><use href="#bO" y="254.5"/><use href="#bO" y="300.5"/><use href="#bO" y="346.5"/>
<g class="t" transform="rotate(-90)"><text class="tb" x="-162.5" y="4.5">←p144</text><text x="-70.5" y="11">p1 (80)</text><text x="-70.5" y="21" class="a">MB</text><text x="-116.5" y="11">p2 (71)</text><text x="-116.5" y="21" class="a">MB</text><text x="-162.5" y="11">p3 (21)</text><text x="-162.5" y="21" class="a">MB</text><text x="-208.5" y="11">p4 (21)</text><text x="-208.5" y="21" class="a">MB</text><text x="-254.5" y="11">p5 (20)</text><text x="-254.5" y="21" class="a">MB</text><text x="-300.5" y="11">p6 (266)</text><text x="-300.5" y="21" class="a">MB</text><text x="-346.5" y="11">p7 (0)</text><text x="-346.5" y="21" class="a">MB</text></g>
</g>

<g id="col27" transform="translate(1338,0)">
<rect y="56" width="11" height="268" rx="5" fill="#cdefad"/><rect x="11" y="59" width="11" height="254" fill="#eef8e6"/>
<rect y="82" width="11" height="23" fill="#c2ec98"/><rect y="128" width="11" height="23" fill="#c2ec98"/><rect y="174" width="11" height="23" fill="#c2ec98"/><rect y="220" width="11" height="23" fill="#c2ec98"/><rect y="266" width="11" height="23" fill="#c2ec98"/>
<use href="#bV" y="70.5"/><use href="#bV" y="116.5"/><use href="#bV" y="162.5"/><use href="#bV" y="208.5"/><use href="#bV" y="254.5"/><use href="#bV" y="300.5"/>
<g class="t" transform="rotate(-90)"><text x="-70.5" y="11">p1 (2)</text><text x="-70.5" y="21" class="a">W:MB</text><text x="-116.5" y="11">p2 (0)</text><text x="-116.5" y="21" class="a">W:MB</text><text x="-162.5" y="11">p3 (0)</text><text x="-162.5" y="21" class="a">W:MB</text><text x="-208.5" y="11">p4 (1)</text><text x="-208.5" y="21" class="a">W:MB</text><text x="-254.5" y="11">p5 (0)</text><text x="-254.5" y="21" class="a">W:MB</text><text x="-300.5" y="11">p6 (2)</text><text x="-300.5" y="21" class="a">W:MB</text></g>
</g>

<g id="col28" transform="translate(1388,0)">
<rect y="54" width="6" height="82" rx="3" fill="#c4c4ee"/><rect y="82" width="6" height="23" fill="#aaaae6"/>
<rect class="bx" y="104.5" width="22" height="24"/><rect y="104.5" width="6" height="24" fill="#d8348e"/><circle cx="0" cy="126.5" r="1.3" fill="#801050"/>
<rect class="bx" y="150.5" width="22" height="24"/><rect y="150.5" width="6" height="24" fill="#d8348e"/><circle cx="0" cy="172.5" r="1.3" fill="#801050"/>
<use href="#bS" y="70.5"/><use href="#bS" y="116.5"/><use href="#bS" y="162.5"/><use href="#bS" y="208.5"/><use href="#bS" y="254.5"/><use href="#bS" y="300.5"/>
<g class="t" transform="rotate(-90)"><text class="tb" x="-116.5" y="4.5">←p156</text><text class="tb" x="-162.5" y="4.5">←p157</text><text x="-70.5" y="11">p1 (111)</text><text x="-70.5" y="21" class="a">W→MB</text><text x="-116.5" y="11">p2 (150)</text><text x="-116.5" y="21" class="a">W→MB</text><text x="-162.5" y="11">p3 (0)</text><text x="-162.5" y="21" class="a">W→MB</text><text x="-208.5" y="11">p4 (220)</text><text x="-208.5" y="21" class="a">W→MB</text><text x="-254.5" y="11">p5 (150)</text><text x="-254.5" y="21" class="a">W→MB</text><text x="-300.5" y="11">p6 (220)</text><text x="-300.5" y="21" class="a">W→MB</text></g>
</g>

<g id="col29" transform="translate(1438,0)">
<rect y="59" width="22" height="300" fill="#e7ede7"/>
<rect y="82" width="22" height="23" fill="#dde6dd"/><rect y="128" width="22" height="23" fill="#dde6dd"/><rect y="174" width="22" height="23" fill="#dde6dd"/><rect y="220" width="22" height="23" fill="#dde6dd"/><rect y="266" width="22" height="23" fill="#d1dbe8"/><rect y="312" width="22" height="23" fill="#dde6dd"/>
<rect class="bx" y="104.5" width="22" height="24"/><rect y="104.5" width="6" height="24" fill="#7c7cec"/><circle cx="0" cy="126.5" r="1.3" fill="#3030a0"/><circle cx="0" cy="108" r="1.3" fill="#3030a0"/>
<use href="#bV" y="70.5"/><use href="#bV" y="116.5"/><use href="#bV" y="162.5"/><use href="#bV" y="208.5"/><use href="#bV" y="254.5"/><use href="#bV" y="300.5"/><use href="#bV" y="346.5"/>
<g class="t" transform="rotate(-90)"><text class="tb" x="-116.5" y="4.5">←p162</text><text x="-70.5" y="11">p1 (0)</text><text x="-70.5" y="21" class="a">W:AB</text><text x="-116.5" y="11">p2 (100)</text><text x="-116.5" y="21" class="a">W:AB</text><text x="-162.5" y="11">p3 (0)</text><text x="-162.5" y="21" class="a">W:AB</text><text x="-208.5" y="11">p4 (0)</text><text x="-208.5" y="21" class="a">W:AB</text><text x="-254.5" y="11">p5 (0)</text><text x="-254.5" y="21" class="a">W:AB</text><text x="-300.5" y="11">p6 (0)</text><text x="-300.5" y="21" class="a">W:AB</text><text x="-346.5" y="11">p7 (0)</text><text x="-346.5" y="21" class="a">W:AB</text></g>
</g>

<g id="col30" transform="translate(1488,0)">
<rect y="56" width="22" height="304" rx="3" fill="#e6eadf"/>
<rect y="54" width="6" height="308" rx="3" fill="#9ccf84"/>
<rect y="82" width="6" height="23" fill="#88c470"/><rect y="128" width="6" height="23" fill="#88c470"/><rect y="174" width="6" height="23" fill="#88c470"/><rect y="220" width="6" height="23" fill="#88c470"/><rect y="266" width="6" height="23" fill="#88c470"/><rect y="312" width="6" height="23" fill="#88c470"/>
<rect x="6" y="82" width="16" height="23" fill="#c3c3c3"/><rect x="6" y="128" width="16" height="23" fill="#c3c3c3"/><rect x="6" y="174" width="16" height="23" fill="#c3c3c3"/><rect x="6" y="220" width="16" height="23" fill="#c3c3c3"/><rect x="6" y="266" width="16" height="23" fill="#c3c3c3"/><rect x="6" y="312" width="16" height="23" fill="#c3c3c3"/>
<use href="#bV" y="70.5"/><use href="#bV" y="116.5"/><use href="#bV" y="162.5"/><use href="#bV" y="208.5"/><use href="#bV" y="254.5"/><use href="#bV" y="300.5"/><use href="#bA" y="346.5"/>
<g class="t" transform="rotate(-90)"><text x="-70.5" y="11">p1 (100)</text><text x="-70.5" y="21" class="a">W:AB</text><text x="-116.5" y="11">p2 (0)</text><text x="-116.5" y="21" class="a">W:AB</text><text x="-162.5" y="11">p3 (0)</text><text x="-162.5" y="21" class="a">W:AB</text><text x="-208.5" y="11">p4 (0)</text><text x="-208.5" y="21" class="a">W:AB</text><text x="-254.5" y="11">p5 (0)</text><text x="-254.5" y="21" class="a">W:AB</text><text x="-300.5" y="11">p6 (0)</text><text x="-300.5" y="21" class="a">W:AB</text><text x="-346.5" y="11">p7 (100)</text><text x="-346.5" y="21" class="a">AB</text></g>
</g>

<g id="col31" transform="translate(1537,0)" opacity="0.28">
<rect y="59" width="22" height="162" fill="#f0efe9"/>
<rect y="82" width="22" height="23" fill="#e2e0d6"/><rect y="128" width="22" height="23" fill="#e2e0d6"/><rect y="174" width="22" height="23" fill="#e2e0d6"/>
<use href="#bA" y="70.5"/><use href="#bA" y="116.5"/><use href="#bA" y="162.5"/><use href="#bA" y="208.5"/>
<g class="t" transform="rotate(-90)"><text x="-70.5" y="11">p1 (0)</text><text x="-70.5" y="21" class="a">MB</text><text x="-116.5" y="11">p2 (0)</text><text x="-116.5" y="21" class="a">MB</text><text x="-162.5" y="11">p3 (0)</text><text x="-162.5" y="21" class="a">MB</text><text x="-208.5" y="11">p4 (0)</text><text x="-208.5" y="21" class="a">MB</text></g>
</g>

<g id="col32" transform="translate(1587,0)">
<rect y="57" width="22" height="210" rx="4" fill="#e7e7ec"/>
<rect y="82" width="22" height="23" fill="#c6c6c9"/><rect y="128" width="22" height="23" fill="#cacada"/><rect y="174" width="22" height="23" fill="#c9c9e2"/><rect y="220" width="22" height="23" fill="#e0dfe6"/>
<rect y="194" width="6" height="76" rx="3" fill="#d9cf98"/>
<rect class="bx" y="242.5" width="22" height="24"/><rect y="242.5" width="6" height="24" fill="#6848c0"/><circle cx="0" cy="264.5" r="1.3" fill="#30187a"/>
<use href="#bS" y="70.5"/><use href="#bS" y="116.5"/><use href="#bS" y="162.5"/><use href="#bS" y="208.5"/><use href="#bS" y="254.5"/>
<g class="t" transform="rotate(-90)"><text class="tb" x="-254.5" y="4.5">←p183</text><text x="-70.5" y="11">p1 (0)</text><text x="-70.5" y="21" class="a">MB:AB</text><text x="-116.5" y="11">p2 (10)</text><text x="-116.5" y="21" class="a">MB:AB</text><text x="-162.5" y="11">p3 (0)</text><text x="-162.5" y="21" class="a">MB:AB</text><text x="-208.5" y="11">p4 (0)</text><text x="-208.5" y="21" class="a">MB:AB</text><text x="-254.5" y="11">p5 (11)</text><text x="-254.5" y="21" class="a">MB:AB</text></g>
</g>

<g id="col33" transform="translate(1637,0)">
<rect y="57" width="22" height="72" rx="4" fill="#e6e6ea"/><rect y="82" width="22" height="23" fill="#c9c9d1"/>
<rect y="145" width="22" height="100" rx="4" fill="#faf2d8"/>
<rect x="6" y="146" width="7" height="232" rx="3" fill="#e2b98e"/>
<rect class="bx" y="104.5" width="22" height="24"/><rect y="104.5" width="6" height="24" fill="#e6c42c"/><circle cx="0" cy="126.5" r="1.3" fill="#8a7010"/>
<rect class="bx" y="196.5" width="22" height="24"/><rect y="196.5" width="6" height="24" fill="#e6c42c"/><circle cx="0" cy="218.5" r="1.3" fill="#8a7010"/>
<rect class="bx" y="380.5" width="22" height="24"/><rect y="380.5" width="6" height="24" fill="#e6c42c"/><circle cx="0" cy="402.5" r="1.3" fill="#8a7010"/>
<rect class="bx" y="426.5" width="22" height="24"/><rect y="426.5" width="6" height="24" fill="#e6c42c"/><circle cx="0" cy="448.5" r="1.3" fill="#8a7010"/>
<rect class="bx" y="518.5" width="22" height="24"/><rect y="518.5" width="6" height="24" fill="#e6c42c"/><circle cx="0" cy="540.5" r="1.3" fill="#8a7010"/>
<rect class="bx" y="564.5" width="22" height="24"/><rect y="564.5" width="6" height="24" fill="#e6c42c"/><circle cx="0" cy="586.5" r="1.3" fill="#8a7010"/>
<rect class="bx" y="610.5" width="22" height="24"/><rect y="610.5" width="6" height="24" fill="#e6c42c"/><circle cx="0" cy="632.5" r="1.3" fill="#8a7010"/>
<rect class="bx" y="656.5" width="22" height="24"/><rect x="16" y="656.5" width="6" height="24" fill="#e6c42c"/><circle cx="22" cy="658.5" r="1.3" fill="#8a7010"/>
<use href="#bV" y="70.5"/><use href="#bV" y="116.5"/><use href="#bV" y="162.5"/><use href="#bV" y="208.5"/><use href="#bA" y="254.5"/><use href="#bA" y="300.5"/><use href="#bV" y="346.5"/><use href="#bM" y="392.5"/><use href="#bM" y="438.5"/><use href="#bA" y="484.5"/><use href="#bM" y="530.5"/><use href="#bA" y="576.5"/><use href="#bA" y="622.5"/><use href="#bA" x="-4" y="668.5"/>
<g class="t" transform="rotate(-90)"><text class="tb" x="-116.5" y="4.5" style="fill:#222">←p113</text><text class="tb" x="-208.5" y="4.5" style="fill:#222">←p181</text><text class="tb" x="-392.5" y="4.5" style="fill:#222">←p153</text><text class="tb" x="-438.5" y="4.5" style="fill:#222">←p115</text><text class="tb" x="-530.5" y="4.5" style="fill:#222">←p210</text><text class="tb" x="-576.5" y="4.5" style="fill:#222">←p187</text><text class="tb" x="-622.5" y="4.5" style="fill:#222">←p211</text><text class="tb" x="-668.5" y="20.5" style="fill:#222">p195</text>
<text x="-70.5" y="11">p1 (30)</text><text x="-70.5" y="21" class="a">W:AB</text><text x="-116.5" y="11">p2 (21)</text><text x="-116.5" y="21" class="a">W:AB</text><text x="-162.5" y="11">p3 (24)</text><text x="-162.5" y="21" class="a">W:AB</text><text x="-208.5" y="11">p4 (21)</text><text x="-208.5" y="21" class="a">W:AB</text><text x="-254.5" y="11">p5 (18)</text><text x="-254.5" y="21" class="a">AB</text><text x="-300.5" y="11">p6 (12)</text><text x="-300.5" y="21" class="a">AB</text><text x="-346.5" y="11">p7 (6)</text><text x="-346.5" y="21" class="a">W:AB</text><text x="-392.5" y="11">p8 (121)</text><text x="-392.5" y="21" class="a">MB</text><text x="-438.5" y="11">p9 (121)</text><text x="-438.5" y="21" class="a">MB</text><text x="-484.5" y="11">p10 (121)</text><text x="-484.5" y="21" class="a">AB</text><text x="-530.5" y="11">p11 (40)</text><text x="-530.5" y="21" class="a">MB</text><text x="-576.5" y="11">p12 (121)</text><text x="-576.5" y="21" class="a">AB</text><text x="-622.5" y="11">p13 (121)</text><text x="-622.5" y="21" class="a">AB</text><text x="-668.5" y="7">p14 (114)</text></g>
</g>

<g id="col34" transform="translate(1687,0)">
<rect class="bx" y="104.5" width="22" height="24"/><rect y="104.5" width="6" height="24" fill="#d27a32"/><circle cx="0" cy="126.5" r="1.3" fill="#7a3a10"/>
<rect class="bx" y="288.5" width="22" height="24"/><rect y="288.5" width="6" height="24" fill="#d27a32"/><circle cx="0" cy="310.5" r="1.3" fill="#7a3a10"/>
<use href="#bW" y="70.5"/><use href="#bW" y="116.5"/><use href="#bW" y="162.5"/><use href="#bW" y="208.5"/><use href="#bW" y="254.5"/><use href="#bW" y="300.5"/><use href="#bW" y="346.5"/>
<g class="t" transform="rotate(-90)"><text class="tb" x="-116.5" y="4.5">←p201</text><text class="tb" x="-300.5" y="4.5">←p193</text><text x="-70.5" y="11">p1 (28)</text><text x="-70.5" y="21" class="a">W</text><text x="-116.5" y="11">p2 (60)</text><text x="-116.5" y="21" class="a">W</text><text x="-162.5" y="11">p3 (18)</text><text x="-162.5" y="21" class="a">W</text><text x="-208.5" y="11">p4 (32)</text><text x="-208.5" y="21" class="a">W</text><text x="-254.5" y="11">p5 (40)</text><text x="-254.5" y="21" class="a">W</text><text x="-300.5" y="11">p6 (207)</text><text x="-300.5" y="21" class="a">W</text><text x="-346.5" y="11">p7 (42)</text><text x="-346.5" y="21" class="a">W</text></g>
</g>

<g id="col35" transform="translate(1737,0)">
<rect class="bx" y="150.5" width="22" height="24"/><rect y="150.5" width="6" height="24" fill="#3a8a6e"/><circle cx="0" cy="172.5" r="1.3" fill="#1a5a3e"/>
<rect class="bx" y="196.5" width="22" height="24"/><rect y="196.5" width="6" height="24" fill="#3a8a6e"/><circle cx="0" cy="218.5" r="1.3" fill="#1a5a3e"/>
<rect class="bx" y="242.5" width="22" height="24"/><rect y="242.5" width="6" height="24" fill="#3a8a6e"/><circle cx="0" cy="264.5" r="1.3" fill="#1a5a3e"/>
<use href="#bG" y="70.5"/><use href="#bG" y="116.5"/><use href="#bG" y="162.5"/><use href="#bG" y="208.5"/><use href="#bG" y="254.5"/><use href="#bG" y="300.5"/>
<g class="t" transform="rotate(-90)"><text class="tb" x="-162.5" y="4.5">←p203</text><text class="tb" x="-208.5" y="4.5">←p208</text><text class="tb" x="-254.5" y="4.5">←p296</text><text x="-70.5" y="11">p1 (111)</text><text x="-70.5" y="21" class="a">GL</text><text x="-116.5" y="11">p2 (50)</text><text x="-116.5" y="21" class="a">GL</text><text x="-162.5" y="11">p3 (120)</text><text x="-162.5" y="21" class="a">GL</text><text x="-208.5" y="11">p4 (52)</text><text x="-208.5" y="21" class="a">GL</text><text x="-254.5" y="11">p5 (190)</text><text x="-254.5" y="21" class="a">GL</text><text x="-300.5" y="11">p6 (0)</text><text x="-300.5" y="21" class="a">GL</text></g>
</g>

<g id="col36" transform="translate(1787,0)">
<rect class="bx" y="104.5" width="22" height="24"/><rect y="104.5" width="6" height="24" fill="#98e060"/><circle cx="0" cy="126.5" r="1.3" fill="#4a8a20"/>
<rect class="bx" y="150.5" width="22" height="24"/><rect y="150.5" width="6" height="24" fill="#98e060"/><circle cx="0" cy="172.5" r="1.3" fill="#4a8a20"/>
<rect class="bx" y="288.5" width="22" height="24"/><rect y="288.5" width="6" height="24" fill="#98e060"/><circle cx="0" cy="310.5" r="1.3" fill="#4a8a20"/>
<use href="#bM" y="70.5"/><use href="#bO" y="116.5"/><use href="#bO" y="162.5"/><use href="#bO" y="208.5"/><use href="#bO" y="254.5"/><use href="#bO" y="300.5"/><use href="#bM" y="346.5"/>
<g class="t" transform="rotate(-90)"><text class="tb" x="-116.5" y="4.5" style="fill:#123">←p172</text><text class="tb" x="-162.5" y="4.5" style="fill:#123">←p211</text><text class="tb" x="-300.5" y="4.5" style="fill:#123">←p218</text><text x="-70.5" y="11">p1 (0)</text><text x="-70.5" y="21" class="a">MB</text><text x="-116.5" y="11">p2 (210)</text><text x="-116.5" y="21" class="a">MB</text><text x="-162.5" y="11">p3 (150)</text><text x="-162.5" y="21" class="a">AB:MB</text><text x="-208.5" y="11">p4 (0)</text><text x="-208.5" y="21" class="a">AB:MB</text><text x="-254.5" y="11">p5 (100)</text><text x="-254.5" y="21" class="a">AB:MB</text><text x="-300.5" y="11">p6 (100)</text><text x="-300.5" y="21" class="a">MB</text><text x="-346.5" y="11">p7 (200)</text><text x="-346.5" y="21" class="a">MB</text></g>
</g>

<g id="col37" transform="translate(1837,0)">
<use href="#bA" y="70.5"/><use href="#bA" y="116.5"/><use href="#bA" y="162.5"/><use href="#bA" y="208.5"/><use href="#bA" y="254.5"/><use href="#bA" y="300.5"/><use href="#bO" y="346.5"/>
<g class="t" transform="rotate(-90)"><text x="-70.5" y="11">p1 (120)</text><text x="-70.5" y="21" class="a">AB:MB</text><text x="-116.5" y="11">p2 (120)</text><text x="-116.5" y="21" class="a">AB:MB</text><text x="-162.5" y="11">p3 (111)</text><text x="-162.5" y="21" class="a">AB:MB</text><text x="-208.5" y="11">p4 (0)</text><text x="-208.5" y="21" class="a">AB:MB</text><text x="-254.5" y="11">p5 (130)</text><text x="-254.5" y="21" class="a">AB:MB</text><text x="-300.5" y="11">p6 (10)</text><text x="-300.5" y="21" class="a">AB:MB</text><text x="-346.5" y="11">p7 (13)</text><text x="-346.5" y="21" class="a">MB</text></g>
</g>

<g id="col38" transform="translate(1887,0)">
<rect class="bx" y="58.5" width="22" height="24"/><rect y="58.5" width="6" height="24" fill="#6a64da"/><circle cx="0" cy="80.5" r="1.3" fill="#2a2490"/>
<rect class="bx" y="104.5" width="22" height="24"/><rect y="104.5" width="6" height="24" fill="#6a64da"/><circle cx="0" cy="126.5" r="1.3" fill="#2a2490"/>
<rect class="bx" y="242.5" width="22" height="24"/><rect y="242.5" width="6" height="24" fill="#6a64da"/><circle cx="0" cy="264.5" r="1.3" fill="#2a2490"/>
<use href="#bA" y="70.5"/><use href="#bA" y="116.5"/><use href="#bA" y="162.5"/><use href="#bA" y="208.5"/><use href="#bA" y="254.5"/><use href="#bA" y="300.5"/><use href="#bA" y="346.5"/>
<g class="t" transform="rotate(-90)"><text class="tb" x="-70.5" y="4.5">←p146</text><text class="tb" x="-116.5" y="4.5">←p152</text><text class="tb" x="-254.5" y="4.5">←p185</text><text x="-70.5" y="11">p1 (157)</text><text x="-70.5" y="21" class="a">AB</text><text x="-116.5" y="11">p2 (210)</text><text x="-116.5" y="21" class="a">AB</text><text x="-162.5" y="11">p3 (150)</text><text x="-162.5" y="21" class="a">AB</text><text x="-208.5" y="11">p4 (254)</text><text x="-208.5" y="21" class="a">AB</text><text x="-254.5" y="11">p5 (140)</text><text x="-254.5" y="21" class="a">AB</text><text x="-300.5" y="11">p6 (190)</text><text x="-300.5" y="21" class="a">AB</text><text x="-346.5" y="11">p7 (111)</text><text x="-346.5" y="21" class="a">AB</text></g>
</g>

<g id="col39" transform="translate(1937,0)">
<rect y="54" width="6" height="82" rx="3" fill="#f4d0e4"/><rect y="82" width="6" height="23" fill="#e8a6d0"/>
<use href="#bM" y="70.5"/><use href="#bM" y="116.5"/><use href="#bM" y="162.5"/><use href="#bM" y="208.5"/><use href="#bM" y="254.5"/><use href="#bM" y="300.5"/><use href="#bM" y="346.5"/>
<g class="t" transform="rotate(-90)"><text x="-70.5" y="11">p1 (11)</text><text x="-70.5" y="21" class="a">MB→AB</text><text x="-116.5" y="11">p2 (10)</text><text x="-116.5" y="21" class="a">MB→AB</text><text x="-162.5" y="11">p3 (0)</text><text x="-162.5" y="21" class="a">MB→AB</text><text x="-208.5" y="11">p4 (0)</text><text x="-208.5" y="21" class="a">MB→AB</text><text x="-254.5" y="11">p5 (0)</text><text x="-254.5" y="21" class="a">MB→AB</text><text x="-300.5" y="11">p6 (0)</text><text x="-300.5" y="21" class="a">MB→AB</text><text x="-346.5" y="11">p7 (7)</text><text x="-346.5" y="21" class="a">MB→AB</text></g>
</g>

<g id="col40" transform="translate(1987,0)">
<rect class="bx" y="58.5" width="22" height="24"/><rect y="58.5" width="6" height="24" fill="#d8348e"/><circle cx="0" cy="80.5" r="1.3" fill="#801050"/>
<use href="#bM" y="70.5"/>
<g class="t" transform="rotate(-90)"><text class="tb" x="-70.5" y="4.5">←p281</text><text x="-70.5" y="11">p1 (7)</text><text x="-70.5" y="21" class="a">MB→AB</text></g>
</g>

<g id="connectors">
<line x1="331" y1="62" x2="1388" y2="173" stroke="#e0409a"/>
<line x1="432" y1="108" x2="1388" y2="126" stroke="#e0409a"/>
<line x1="331" y1="67" x2="1438" y2="126" stroke="#8888f0"/>
<line x1="331" y1="153" x2="1637" y2="126" stroke="#e2c022"/>
<line x1="331" y1="158" x2="1138" y2="81" stroke="#3c8c6c"/>
<line x1="331" y1="246" x2="1637" y2="449" stroke="#e2c022"/>
<line x1="382" y1="62" x2="1038" y2="218" stroke="#e2c022"/>
<line x1="382" y1="108" x2="1038" y2="357" stroke="#e2c022"/>
<line x1="382" y1="153" x2="988" y2="219" stroke="#6848c8"/>
<line x1="382" y1="158" x2="1288" y2="173" stroke="#6c6ce0"/>
<line x1="432" y1="113" x2="1038" y2="126" stroke="#e2c022"/>
<line x1="632" y1="200" x2="1637" y2="541" stroke="#e2c022"/>
<line x1="732" y1="62" x2="1587" y2="265" stroke="#6848c8"/>
<line x1="732" y1="246" x2="1787" y2="173" stroke="#a4e464"/>
<line x1="732" y1="249" x2="1637" y2="633" stroke="#e2c022"/>
<line x1="782" y1="200" x2="838" y2="126" stroke="#8888f0"/>
<line x1="782" y1="205" x2="1737" y2="265" stroke="#3c8c6c"/>
<line x1="882" y1="62" x2="888" y2="265" stroke="#50d050"/>
<line x1="882" y1="108" x2="888" y2="172" stroke="#50d050"/>
<line x1="1082" y1="338" x2="1637" y2="587" stroke="#e2c022"/>
<line x1="1180" y1="200" x2="1637" y2="403" stroke="#e2c022"/>
<line x1="1180" y1="205" x2="1737" y2="219" stroke="#3c8c6c"/>
<line x1="1166" y1="108" x2="1182" y2="246" stroke="#a4e464"/>
<line x1="1166" y1="108" x2="1188" y2="172" stroke="#a4e464"/>
<line x1="1166" y1="108" x2="1209" y2="198" stroke="#a4e464"/>
<line x1="1216" y1="62" x2="1259" y2="106" stroke="#40c0c8"/>
<line x1="1382" y1="292" x2="1787" y2="126" stroke="#a4e464"/>
<line x1="1530" y1="338" x2="1787" y2="311" stroke="#a4e464"/>
<line x1="1430" y1="108" x2="1438" y2="108" stroke="#8888f0"/>
<line x1="1430" y1="108" x2="1887" y2="81" stroke="#8888f0"/>
<line x1="1638" y1="200" x2="1887" y2="127" stroke="#6c6ce0"/>
<line x1="1681" y1="108" x2="1887" y2="265" stroke="#6c6ce0"/>
<line x1="1632" y1="251" x2="1737" y2="173" stroke="#3c8c6c"/>
<line x1="1631" y1="108" x2="1659" y2="659" stroke="#e2c022"/>
<line x1="1631" y1="246" x2="1637" y2="587" stroke="#e2c022"/>
<line x1="1620" y1="200" x2="1637" y2="219" stroke="#e2c022"/>
<line x1="1681" y1="292" x2="1687" y2="311" stroke="#d08030"/>
<line x1="1681" y1="384" x2="1687" y2="126" stroke="#d08030"/>
<line x1="1980" y1="108" x2="1987" y2="81" stroke="#e0409a"/>
</g>

<g id="chips" class="cp">
<g transform="translate(310,59.5)"><rect width="19" height="4.6" fill="#e0409a" stroke="#801050"/><text x="4" y="3.6">=p157</text><circle cx="20.5" cy="2.3" r="1.3" fill="#801050"/></g>
<g transform="translate(310,64.5)"><rect width="19" height="4.6" fill="#8888f0" stroke="#3a36a0"/><text x="4" y="3.6">=p162</text><circle cx="20.5" cy="2.3" r="1.3" fill="#3a36a0"/></g>
<g transform="translate(310,151)"><rect width="19" height="4.6" fill="#e6c42c" stroke="#8a7010"/><text class="k" x="4" y="3.6">=p113</text><circle cx="20.5" cy="2.3" r="1.3" fill="#8a7010"/></g>
<g transform="translate(310,156)"><rect width="19" height="4.6" fill="#3c8c6c" stroke="#1a5a3e"/><text x="4" y="3.6">=p119</text><circle cx="20.5" cy="2.3" r="1.3" fill="#1a5a3e"/></g>
<g transform="translate(310,244)"><rect width="19" height="4.6" fill="#e6c42c" stroke="#8a7010"/><text class="k" x="4" y="3.6">=p115</text><circle cx="20.5" cy="2.3" r="1.3" fill="#8a7010"/></g>
<g transform="translate(361,59.5)"><rect width="19" height="4.6" fill="#e6c42c" stroke="#8a7010"/><text class="k" x="4" y="3.6">=p132</text><circle cx="20.5" cy="2.3" r="1.3" fill="#8a7010"/></g>
<g transform="translate(361,106)"><rect width="19" height="4.6" fill="#e6c42c" stroke="#8a7010"/><text class="k" x="4" y="3.6">=p196</text><circle cx="20.5" cy="2.3" r="1.3" fill="#8a7010"/></g>
<g transform="translate(361,151)"><rect width="19" height="4.6" fill="#6848c8" stroke="#30187a"/><text x="4" y="3.6">=p187</text><circle cx="20.5" cy="2.3" r="1.3" fill="#30187a"/></g>
<g transform="translate(361,156)"><rect width="19" height="4.6" fill="#6c6ce0" stroke="#2a2490"/><text x="4" y="3.6">=p144</text><circle cx="20.5" cy="2.3" r="1.3" fill="#2a2490"/></g>
<g transform="translate(411,105.5)"><rect width="19" height="4.6" fill="#e0409a" stroke="#801050"/><text x="4" y="3.6">=p156</text><circle cx="20.5" cy="2.3" r="1.3" fill="#801050"/></g>
<g transform="translate(411,110.5)"><rect width="19" height="4.6" fill="#e6c42c" stroke="#8a7010"/><text class="k" x="4" y="3.6">=p183</text><circle cx="20.5" cy="2.3" r="1.3" fill="#8a7010"/></g>
<g transform="translate(611,197.5)"><rect width="19" height="4.6" fill="#e6c42c" stroke="#8a7010"/><text class="k" x="4" y="3.6">=p210</text><circle cx="20.5" cy="2.3" r="1.3" fill="#8a7010"/></g>
<g transform="translate(711,59.5)"><rect width="19" height="4.6" fill="#7a5ab8" stroke="#30187a"/><text x="4" y="3.6">=p183</text><circle cx="20.5" cy="2.3" r="1.3" fill="#30187a"/></g>
<g transform="translate(711,243.5)"><rect width="19" height="4.6" fill="#a4e464" stroke="#4a8a20"/><text class="k" x="4" y="3.6">=p211</text><circle cx="20.5" cy="2.3" r="1.3" fill="#4a8a20"/></g>
<g transform="translate(761,197.5)"><rect width="19" height="4.6" fill="#8888f0" stroke="#3a36a0"/><text x="4" y="3.6">=p28</text><circle cx="20.5" cy="2.3" r="1.3" fill="#3a36a0"/></g>
<g transform="translate(761,202.5)"><rect width="19" height="4.6" fill="#3c8c6c" stroke="#1a5a3e"/><text x="4" y="3.6">=p296</text><circle cx="20.5" cy="2.3" r="1.3" fill="#1a5a3e"/></g>
<g transform="translate(861,59.5)"><rect width="19" height="4.6" fill="#66d66a" stroke="#2a8a2e"/><text class="k" x="4" y="3.6">=p94</text><circle cx="20.5" cy="2.3" r="1.3" fill="#2a8a2e"/></g>
<g transform="translate(861,105.5)"><rect width="19" height="4.6" fill="#66d66a" stroke="#2a8a2e"/><text class="k" x="4" y="3.6">=p92</text><circle cx="20.5" cy="2.3" r="1.3" fill="#2a8a2e"/></g>
<g transform="translate(1061,335.5)"><rect width="19" height="4.6" fill="#e6c42c" stroke="#8a7010"/><text class="k" x="4" y="3.6">=p93</text><circle cx="20.5" cy="2.3" r="1.3" fill="#8a7010"/></g>
<g transform="translate(1160,197.5)"><rect width="19" height="4.6" fill="#e6c42c" stroke="#8a7010"/><text class="k" x="4" y="3.6">=p153</text><circle cx="20.5" cy="2.3" r="1.3" fill="#8a7010"/></g>
<g transform="translate(1160,202.5)"><rect width="19" height="4.6" fill="#3c8c6c" stroke="#1a5a3e"/><text x="4" y="3.6">=p208</text><circle cx="20.5" cy="2.3" r="1.3" fill="#1a5a3e"/></g>
<g transform="translate(1160,243.5)"><rect width="19" height="4.6" fill="#a4e464" stroke="#4a8a20"/><text class="k" x="4" y="3.6">=p126</text><circle cx="20.5" cy="2.3" r="1.3" fill="#4a8a20"/></g>
<g transform="translate(1167,105.5)"><rect width="19" height="4.6" fill="#a4e464" stroke="#4a8a20"/><text class="k" x="4" y="3.6">=p127</text><circle cx="-1" cy="2.3" r="1.3" fill="#4a8a20"/></g>
<g transform="translate(1217,59.5)"><rect width="19" height="4.6" fill="#4ec4cc" stroke="#1a7a80"/><text x="4" y="3.6">=p136</text><circle cx="-1" cy="2.3" r="1.3" fill="#1a7a80"/></g>
<g transform="translate(1361,289.5)"><rect width="19" height="4.6" fill="#a4e464" stroke="#4a8a20"/><text class="k" x="4" y="3.6">=p172</text><circle cx="20.5" cy="2.3" r="1.3" fill="#4a8a20"/></g>
<g transform="translate(1410,105.5)"><rect width="19" height="4.6" fill="#8888f0" stroke="#3a36a0"/><text x="4" y="3.6">=p191</text><circle cx="20.5" cy="2.3" r="1.3" fill="#3a36a0"/></g>
<g transform="translate(1510,335.5)"><rect width="19" height="4.6" fill="#a4e464" stroke="#4a8a20"/><text class="k" x="4" y="3.6">=p218</text><circle cx="20.5" cy="2.3" r="1.3" fill="#4a8a20"/></g>
<g transform="translate(1610,105.5)"><rect width="19" height="4.6" fill="#e6c42c" stroke="#8a7010"/><text class="k" x="4" y="3.6">=p195</text><circle cx="20.5" cy="2.3" r="1.3" fill="#8a7010"/></g>
<g transform="translate(1610,197.5)"><rect width="19" height="4.6" fill="#6c6ce0" stroke="#2a2490"/><text x="4" y="3.6">=p226</text><circle cx="20.5" cy="2.3" r="1.3" fill="#2a2490"/></g>
<g transform="translate(1610,243.5)"><rect width="19" height="4.6" fill="#e6c42c" stroke="#8a7010"/><text class="k" x="4" y="3.6">=p187</text><circle cx="20.5" cy="2.3" r="1.3" fill="#8a7010"/></g>
<g transform="translate(1610,248.5)"><rect width="19" height="4.6" fill="#3c8c6c" stroke="#1a5a3e"/><text x="4" y="3.6">=p203</text><circle cx="20.5" cy="2.3" r="1.3" fill="#1a5a3e"/></g>
<g transform="translate(1660,105.5)"><rect width="19" height="4.6" fill="#6c6ce0" stroke="#2a2490"/><text x="4" y="3.6">=p220</text><circle cx="20.5" cy="2.3" r="1.3" fill="#2a2490"/></g>
<g transform="translate(1660,289.5)"><rect width="19" height="4.6" fill="#d27a32" stroke="#7a3a10"/><text x="4" y="3.6">=p193</text><circle cx="20.5" cy="2.3" r="1.3" fill="#7a3a10"/></g>
<g transform="translate(1660,381.5)"><rect width="19" height="4.6" fill="#d27a32" stroke="#7a3a10"/><text x="4" y="3.6">=p201</text><circle cx="20.5" cy="2.3" r="1.3" fill="#7a3a10"/></g>
<g transform="translate(1960,105.5)"><rect width="19" height="4.6" fill="#e0409a" stroke="#801050"/><text x="4" y="3.6">=p279</text><circle cx="20.5" cy="2.3" r="1.3" fill="#801050"/></g>
</g>
</svg>
